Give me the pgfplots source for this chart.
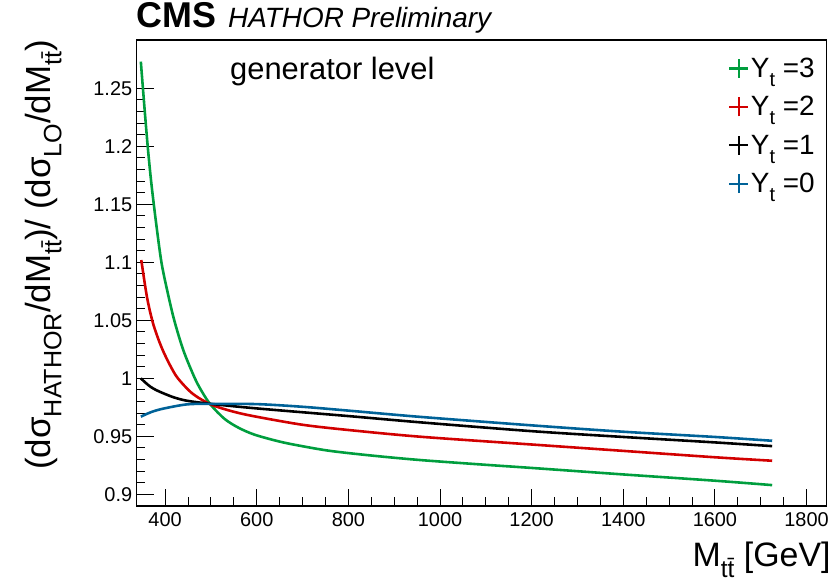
\documentclass[border=0pt]{standalone}
\usepackage{fontspec}
\setmainfont{Liberation Sans}
\usepackage{pgfplots}
\pgfplotsset{compat=1.18}

\definecolor{ygreen}{RGB}{0,158,62}
\definecolor{yred}{RGB}{210,0,0}
\definecolor{yblue}{RGB}{0,98,152}

% lowered, reduced subscript in the ROOT style
\newcommand\sub[1]{\raisebox{-0.32em}{\scalebox{0.72}{#1}}}
\newcommand\ttbar{t\={t}}

\pgfplotstableread{
m r
347 1.273
354 1.238
362 1.200
370 1.168
380 1.135
392 1.100
405 1.075
420 1.050
440 1.024
465 1.000
482 0.9875
500 0.9770
530 0.9650
560 0.9575
595 0.9515
650 0.9455
700 0.9415
760 0.9375
850 0.9335
957 0.9296
1100 0.9255
1200 0.9228
1400 0.9172
1600 0.9118
1725 0.9080
}\ytthree

\pgfplotstableread{
m r
348 1.102
354 1.086
360 1.071
367 1.0577
375 1.0456
386 1.0330
397 1.0224
412 1.0104
428 1.0000
460 0.9868
500 0.9775
550 0.9712
600 0.9669
700 0.9600
800 0.9555
957 0.9497
1200 0.9430
1400 0.9375
1600 0.9320
1725 0.9290
}\yttwo

\pgfplotstableread{
m r
347 1.000
358 0.996
368 0.9928
380 0.9900
397 0.9870
420 0.9835
448 0.9807
500 0.9780
600 0.9741
800 0.9675
957 0.9621
1200 0.9545
1400 0.9495
1600 0.9448
1725 0.9416
}\ytone

\pgfplotstableread{
m r
347 0.967
370 0.971
397 0.974
448 0.9776
500 0.9780
600 0.9778
700 0.9755
800 0.9722
957 0.9668
1200 0.9595
1400 0.9540
1600 0.9495
1725 0.9462
}\ytzero

\begin{document}
\begin{tikzpicture}
\path[use as bounding box] (0bp,0bp) rectangle (829bp,588bp);
\begin{axis}[
  at={(136.7bp,82bp)}, anchor=south west,
  scale only axis, width=690bp, height=466bp,
  xmin=338, xmax=1844, ymin=0.89, ymax=1.2916,
  xtick={400,600,800,1000,1200,1400,1600,1800},
  minor x tick num=3,
  ytick={0.9,0.95,1,1.05,1.1,1.15,1.2,1.25},
  minor y tick num=4,
  tick pos=left, tick align=inside,
  major tick length=17bp, minor tick length=8.5bp,
  every tick/.style={black, line width=1pt},
  axis line style={line width=1.3pt},
  /pgf/number format/assume math mode=true,
  /pgf/number format/1000 sep={},
  scaled y ticks=false,
  xticklabel style={font=\fontsize{20}{20}\selectfont, yshift=-3bp},
  yticklabel style={font=\fontsize{20}{20}\selectfont, xshift=-1bp},
  xlabel={M\sub{\ttbar} [GeV]},
  xlabel style={at={(rel axis cs:1,0)}, anchor=north east, yshift=-36bp, xshift=4bp,
    font=\fontsize{34}{34}\selectfont, inner sep=0pt},
  ylabel={(dσ\sub{HATHOR}/dM\sub{\ttbar})/ (dσ\sub{LO}/dM\sub{\ttbar})},
  ylabel style={at={(rel axis cs:0,1)}, anchor=south east, yshift=75bp,
    font=\fontsize{35}{35}\selectfont, inner sep=0pt},
  legend style={at={(rel axis cs:0.985,0.965)}, anchor=north east, draw=none, fill=none,
    font=\fontsize{28}{28}\selectfont, row sep=14.5bp, inner sep=0pt,
    nodes={inner sep=1.5bp}},
  legend cell align=left,
  legend image code/.code={\draw[#1, line width=2.2pt] (0bp,-9.5bp) -- (0bp,9.5bp) (-9.5bp,0bp) -- (9.5bp,0bp);},
  every axis plot/.append style={line width=2.6pt, smooth, tension=0.5},
]
\addplot[ygreen] table[x=m,y=r] {\ytthree};
\addlegendentry{Y\sub{t} =3}
\addplot[yred] table[x=m,y=r] {\yttwo};
\addlegendentry{Y\sub{t} =2}
\addplot[black] table[x=m,y=r] {\ytone};
\addlegendentry{Y\sub{t} =1}
\addplot[yblue] table[x=m,y=r] {\ytzero};
\addlegendentry{Y\sub{t} =0}
\end{axis}
\node[anchor=base west, inner sep=0pt] at (136.7bp,560.5bp) {\fontsize{36}{36}\selectfont\bfseries CMS};
\node[anchor=base west, inner sep=0pt] at (228bp,560.5bp) {\fontsize{28}{28}\selectfont\itshape HATHOR Preliminary};
\node[anchor=base west, inner sep=0pt] at (230bp,508bp) {\fontsize{31}{31}\selectfont generator level};
\end{tikzpicture}
\end{document}
